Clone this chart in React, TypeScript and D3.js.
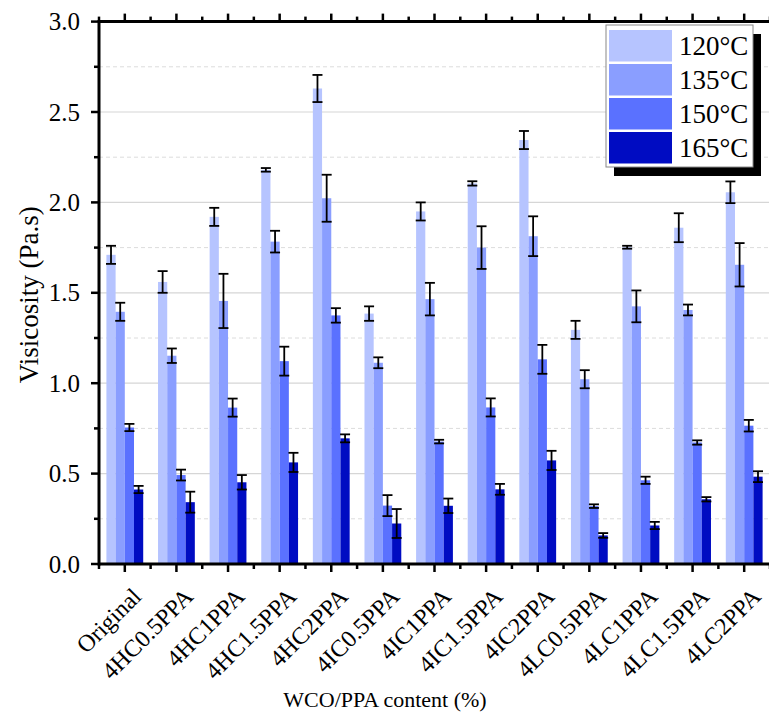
import React from "react";
import * as d3 from "d3";

const categories = ["Original", "4HC0.5PPA", "4HC1PPA", "4HC1.5PPA", "4HC2PPA", "4IC0.5PPA", "4IC1PPA", "4IC1.5PPA", "4IC2PPA", "4LC0.5PPA", "4LC1PPA", "4LC1.5PPA", "4LC2PPA"];
const seriesNames = ["120°C", "135°C", "150°C", "165°C"];
const v120 = [1.71, 1.56, 1.92, 2.18, 2.63, 1.385, 1.95, 2.105, 2.345, 1.295, 1.752, 1.86, 2.056];
const v135 = [1.395, 1.152, 1.455, 1.783, 2.023, 1.113, 1.465, 1.75, 1.813, 1.022, 1.425, 1.405, 1.655];
const v150 = [0.755, 0.492, 0.865, 1.122, 1.375, 0.323, 0.677, 0.866, 1.132, 0.32, 0.463, 0.672, 0.765];
const v165 = [0.412, 0.342, 0.452, 0.562, 0.695, 0.224, 0.322, 0.413, 0.573, 0.158, 0.213, 0.358, 0.483];
const e120 = [0.05, 0.06, 0.05, 0.01, 0.075, 0.04, 0.05, 0.012, 0.05, 0.05, 0.008, 0.08, 0.06];
const e135 = [0.05, 0.04, 0.15, 0.06, 0.13, 0.03, 0.09, 0.118, 0.11, 0.05, 0.088, 0.03, 0.12];
const e150 = [0.02, 0.03, 0.05, 0.08, 0.04, 0.058, 0.01, 0.05, 0.08, 0.01, 0.02, 0.012, 0.032];
const e165 = [0.02, 0.058, 0.04, 0.053, 0.022, 0.08, 0.04, 0.03, 0.053, 0.013, 0.02, 0.012, 0.03];
const yTicks = [0, 0.5, 1.0, 1.5, 2.0, 2.5, 3.0];
const yMinorTicks = [0.25, 0.75, 1.25, 1.75, 2.25, 2.75];
const colors = ["#b6c4ff", "#8a9eff", "#5a71ff", "#000cc2"];

const values = [v120, v135, v150, v165];
const errors = [e120, e135, e150, e165];

const W = 769, H = 722;
const L = 99, R = 770, T = 21.6, B = 564;
const FONT = "Liberation Serif, Times New Roman, Times, DejaVu Serif, serif";

export default function App() {
  const x = d3.scaleBand<string>().domain(categories).range([L, R]).paddingInner(0).paddingOuter(0);
  const bw = x.bandwidth();
  const groupW = bw * 0.713;
  const xs = d3.scaleBand<string>().domain(seriesNames).range([-groupW / 2, groupW / 2]);
  const y = d3.scaleLinear().domain([0, 3]).range([B, T]);
  const sbw = xs.bandwidth();
  const boundaries = d3.range(categories.length + 1).map((i) => L + i * bw);

  return (
    <svg width={W} height={H} style={{ position: "absolute", left: 0, top: 0, background: "#fff", fontFamily: FONT }}>
      {yMinorTicks.map((t) => (
        <line key={"gm" + t} x1={L} x2={R} y1={y(t)} y2={y(t)} stroke="#dcdcdc" strokeWidth={1} strokeDasharray="4,3" />
      ))}
      {yTicks.slice(1, -1).map((t) => (
        <line key={"g" + t} x1={L} x2={R} y1={y(t)} y2={y(t)} stroke="#d6d6d6" strokeWidth={1.2} />
      ))}
      {seriesNames.map((s, si) =>
        categories.map((c, ci) => {
          const cx = (x(c) as number) + bw / 2;
          const bx = cx + (xs(s) as number);
          const v = values[si][ci];
          return <rect key={s + c} x={bx} y={y(v)} width={sbw} height={B - y(v)} fill={colors[si]} />;
        })
      )}
      {seriesNames.map((s, si) =>
        categories.map((c, ci) => {
          const cx = (x(c) as number) + bw / 2 + (xs(s) as number) + sbw / 2;
          const v = values[si][ci];
          const e = errors[si][ci];
          const y1 = y(v + e), y2 = y(v - e);
          const hw = 5;
          return (
            <g key={"e" + s + c} stroke="#000" strokeWidth={1.8}>
              <line x1={cx} x2={cx} y1={y1} y2={y2} />
              <line x1={cx - hw} x2={cx + hw} y1={y1} y2={y1} />
              <line x1={cx - hw} x2={cx + hw} y1={y2} y2={y2} />
            </g>
          );
        })
      )}
      <line x1={L} x2={R} y1={B} y2={B} stroke="#000" strokeWidth={3} />
      <line x1={L} x2={R} y1={T} y2={T} stroke="#000" strokeWidth={3} />
      <line x1={L} x2={L} y1={T - 1.5} y2={B + 1.5} stroke="#000" strokeWidth={3} />
      {categories.map((c) => {
        const cx = (x(c) as number) + bw / 2;
        return (
          <g key={"xt" + c}>
            <line x1={cx} x2={cx} y1={B} y2={B + 8} stroke="#000" strokeWidth={2.5} />
            <line x1={cx} x2={cx} y1={T} y2={T - 8} stroke="#000" strokeWidth={2.5} />
          </g>
        );
      })}
      {boundaries.map((bx, i) => (
        <g key={"xm" + i}>
          <line x1={bx} x2={bx} y1={B} y2={B + 5} stroke="#000" strokeWidth={2.5} />
          <line x1={bx} x2={bx} y1={T} y2={T - 5} stroke="#000" strokeWidth={2.5} />
        </g>
      ))}
      {yTicks.map((t) => (
        <g key={"yt" + t}>
          <line x1={L} x2={L - 8} y1={y(t)} y2={y(t)} stroke="#000" strokeWidth={2.5} />
          <text x={L - 19} y={y(t)} dy="0.34em" textAnchor="end" fontSize={25} fill="#000">
            {t.toFixed(1)}
          </text>
        </g>
      ))}
      {yMinorTicks.map((t) => (
        <line key={"ym" + t} x1={L} x2={L - 5} y1={y(t)} y2={y(t)} stroke="#000" strokeWidth={2.5} />
      ))}
      {categories.map((c) => {
        const cx = (x(c) as number) + bw / 2 + 18;
        const ty = B + 34;
        return (
          <text key={"xl" + c} x={cx} y={ty} textAnchor="end" fontSize={24} fill="#000" transform={`rotate(-45, ${cx}, ${ty})`}>
            {c}
          </text>
        );
      })}
      <text x={385} y={707} textAnchor="middle" fontSize={22} fill="#000">WCO/PPA content (%)</text>
      <text transform={`translate(38, ${(T + B) / 2 + 2}) rotate(-90)`} textAnchor="middle" fontSize={27} fill="#000">Visicosity (Pa.s)</text>
      <rect x={614} y={34} width={147} height={142} fill="#000" />
      <rect x={606} y={25} width={147} height={142} fill="#fff" stroke="#888" strokeWidth={1} />
      {seriesNames.map((s, i) => (
        <g key={"lg" + s}>
          <rect x={609} y={30 + i * 34} width={63} height={31.5} fill={colors[i]} />
          <text x={679} y={30 + i * 34 + 16} dy="0.35em" fontSize={27} fill="#000">{s}</text>
        </g>
      ))}
    </svg>
  );
}
